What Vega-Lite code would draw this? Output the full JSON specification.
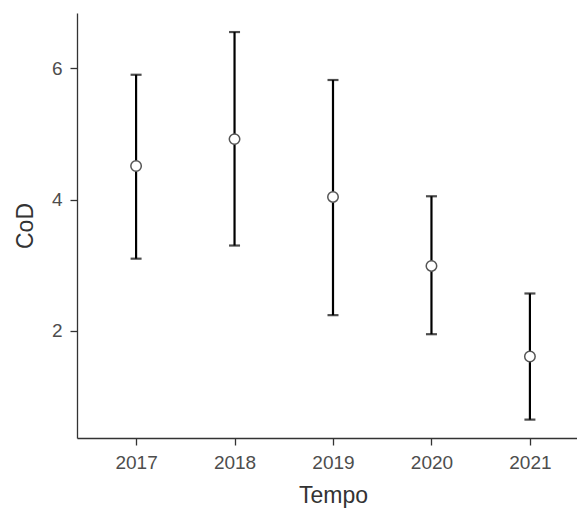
{
  "$schema": "https://vega.github.io/schema/vega-lite/v6.json",
  "width": 512,
  "height": 425,
  "autosize": "none",
  "padding": {"left": 77, "top": 13, "right": 0, "bottom": 75},
  "background": "white",
  "config": {
    "view": {"stroke": null},
    "font": "Liberation Sans",
    "axis": {
      "grid": false,
      "domainColor": "#333333",
      "domainWidth": 1.3,
      "tickColor": "#333333",
      "tickWidth": 1.3,
      "tickSize": 7,
      "labelPadding": 8,
      "labelColor": "#4d4d4d",
      "labelFontSize": 19,
      "labelFont": "Liberation Sans",
      "titleFont": "Liberation Sans",
      "titleFontSize": 23,
      "titleFontWeight": "normal",
      "titleColor": "#333333"
    }
  },
  "data": {
    "values": [
      {"year": "2017", "mean": 4.51, "lo": 3.10, "hi": 5.90},
      {"year": "2018", "mean": 4.92, "lo": 3.30, "hi": 6.55},
      {"year": "2019", "mean": 4.04, "lo": 2.24, "hi": 5.82},
      {"year": "2020", "mean": 2.99, "lo": 1.95, "hi": 4.05},
      {"year": "2021", "mean": 1.61, "lo": 0.65, "hi": 2.57}
    ]
  },
  "encoding": {
    "x": {
      "field": "year",
      "type": "ordinal",
      "scale": {"type": "point", "padding": 0.6},
      "axis": {"title": "Tempo", "labelAngle": 0, "titlePadding": 12}
    }
  },
  "layer": [
    {
      "mark": {"type": "rule", "strokeWidth": 2.2, "color": "black"},
      "encoding": {
        "y": {"field": "lo", "type": "quantitative", "scale": {"domain": [0.37, 6.84], "nice": false, "zero": false}, "axis": {"title": "CoD", "values": [2, 4, 6], "format": "d", "titlePadding": 14}},
        "y2": {"field": "hi"}
      }
    },
    {
      "mark": {"type": "tick", "size": 11, "thickness": 2.2, "color": "black", "orient": "horizontal"},
      "encoding": {"y": {"field": "lo", "type": "quantitative"}}
    },
    {
      "mark": {"type": "tick", "size": 11, "thickness": 2.2, "color": "black", "orient": "horizontal"},
      "encoding": {"y": {"field": "hi", "type": "quantitative"}}
    },
    {
      "mark": {"type": "point", "filled": true, "fill": "white", "stroke": "#555555", "strokeWidth": 1.5, "size": 110, "opacity": 1},
      "encoding": {"y": {"field": "mean", "type": "quantitative"}}
    }
  ]
}
